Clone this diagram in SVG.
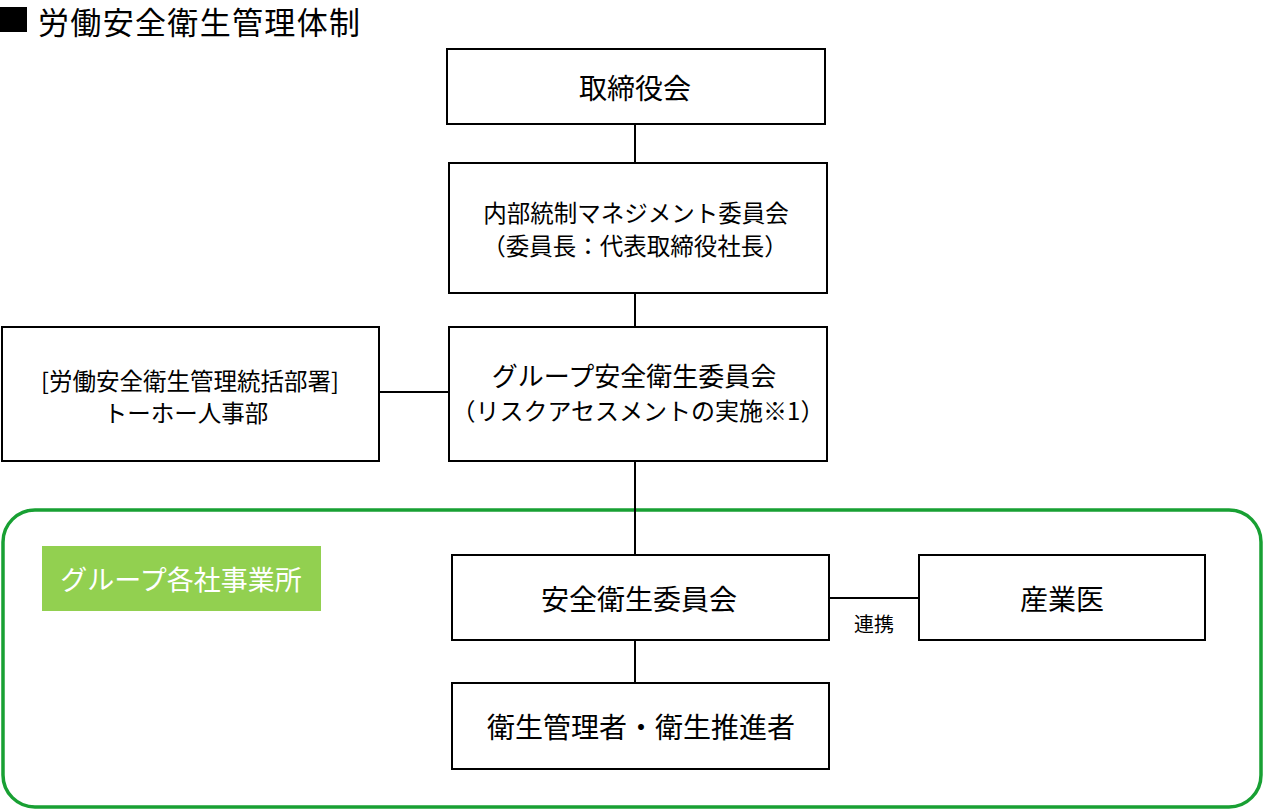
<svg xmlns="http://www.w3.org/2000/svg" width="1264" height="810" viewBox="0 0 1264 810">
<style>
.box{fill:#fff;stroke:#000;stroke-width:2}
.ln{stroke:#000;stroke-width:2;fill:none}
text{font-family:"Noto Sans CJK JP","Noto Sans",sans-serif;fill:#000;text-anchor:middle;dominant-baseline:central}
</style>
<rect width="1264" height="810" fill="#fff"/>
<g id="title">
<rect x="0" y="7" width="27" height="25" fill="#000"/>
<text x="38" y="20" style="text-anchor:start;font-size:31px" textLength="322">労働安全衛生管理体制</text>
</g>
<g id="group-area">
<rect x="3" y="510" width="1258" height="297" rx="32" ry="32" fill="none" stroke="#18a033" stroke-width="3.5"/>
<rect x="42" y="546" width="279" height="65" fill="#92d050"/>
<text x="181" y="578" style="font-size:27px;fill:#fff">グループ各社事業所</text>
</g>
<g id="connectors">
<line class="ln" x1="635" y1="124" x2="635" y2="163"/>
<line class="ln" x1="635" y1="293" x2="635" y2="327"/>
<line class="ln" x1="635" y1="461" x2="635" y2="555"/>
<line class="ln" x1="635" y1="640" x2="635" y2="683"/>
<line class="ln" x1="379" y1="392" x2="449" y2="392"/>
<line class="ln" x1="829" y1="598" x2="919" y2="598"/>
<text x="874" y="623" style="font-size:20px">連携</text>
</g>
<g id="board">
<rect class="box" x="447" y="49" width="378" height="75"/>
<text x="635" y="87" style="font-size:28px">取締役会</text>
</g>
<g id="internal-control">
<rect class="box" x="449" y="163" width="378" height="130"/>
<text x="636" y="212" style="font-size:23.5px">内部統制マネジメント委員会</text>
<text x="635" y="245" style="font-size:23.5px">（委員長：代表取締役社長）</text>
</g>
<g id="hr">
<rect class="box" x="2" y="327" width="377" height="134"/>
<text x="190" y="380" style="font-size:23.5px">[労働安全衛生管理統括部署]</text>
<text x="186" y="412" style="font-size:23.5px">トーホー人事部</text>
</g>
<g id="group-committee">
<rect class="box" x="449" y="327" width="378" height="134"/>
<text x="634" y="374" style="font-size:26px">グループ安全衛生委員会</text>
<text x="638" y="409" style="font-size:24px">（リスクアセスメントの実施※1）</text>
</g>
<g id="safety-committee">
<rect class="box" x="452" y="555" width="377" height="85"/>
<text x="639" y="598" style="font-size:28px">安全衛生委員会</text>
</g>
<g id="managers">
<rect class="box" x="452" y="683" width="377" height="86"/>
<text x="641" y="726" style="font-size:28px">衛生管理者・衛生推進者</text>
</g>
<g id="doctor">
<rect class="box" x="919" y="555" width="286" height="85"/>
<text x="1062" y="598" style="font-size:28px">産業医</text>
</g>
</svg>
